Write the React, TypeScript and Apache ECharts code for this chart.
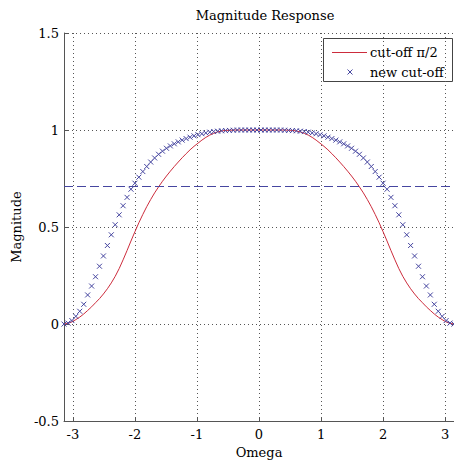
import React, { useEffect, useRef } from "react";
import * as echarts from "echarts";

// Frequency grid (rad/sample)
const omega = [
  -3.142, -3.078, -3.015, -2.951, -2.888, -2.824, -2.761, -2.697, -2.634, -2.57,
  -2.507, -2.443, -2.38, -2.317, -2.253, -2.19, -2.126, -2.063, -1.999, -1.936,
  -1.872, -1.809, -1.745, -1.682, -1.618, -1.555, -1.491, -1.428, -1.365, -1.301,
  -1.238, -1.174, -1.111, -1.047, -0.984, -0.92, -0.857, -0.793, -0.73, -0.666,
  -0.603, -0.539, -0.476, -0.413, -0.349, -0.286, -0.222, -0.159, -0.095, -0.032,
  0.032, 0.095, 0.159, 0.222, 0.286, 0.349, 0.413, 0.476, 0.539, 0.603,
  0.666, 0.73, 0.793, 0.857, 0.92, 0.984, 1.047, 1.111, 1.174, 1.238,
  1.301, 1.365, 1.428, 1.491, 1.555, 1.618, 1.682, 1.745, 1.809, 1.872,
  1.936, 1.999, 2.063, 2.126, 2.19, 2.253, 2.317, 2.38, 2.443, 2.507,
  2.57, 2.634, 2.697, 2.761, 2.824, 2.888, 2.951, 3.015, 3.078, 3.142,
];

// Red curve: "cut-off π/2"
const cutoffHalfPi = [
  0.0, 0.004, 0.011, 0.023, 0.036, 0.052, 0.07, 0.089, 0.11, 0.131,
  0.155, 0.182, 0.212, 0.246, 0.286, 0.331, 0.379, 0.428, 0.476, 0.522,
  0.565, 0.605, 0.642, 0.676, 0.707, 0.736, 0.763, 0.788, 0.812, 0.835,
  0.857, 0.878, 0.898, 0.916, 0.932, 0.948, 0.962, 0.974, 0.983, 0.99,
  0.995, 0.998, 0.999, 1.0, 1.0, 1.0, 1.0, 1.0, 1.0, 1.0,
  1.0, 1.0, 1.0, 1.0, 1.0, 1.0, 1.0, 0.999, 0.998, 0.995,
  0.99, 0.983, 0.974, 0.962, 0.948, 0.932, 0.916, 0.898, 0.878, 0.857,
  0.835, 0.812, 0.788, 0.763, 0.736, 0.707, 0.676, 0.642, 0.605, 0.565,
  0.522, 0.476, 0.428, 0.379, 0.331, 0.286, 0.246, 0.212, 0.182, 0.155,
  0.131, 0.11, 0.089, 0.07, 0.052, 0.036, 0.023, 0.011, 0.004, 0.0,
];

// Blue markers: "new cut-off"
const newCutoff = [
  0.0, 0.005, 0.018, 0.04, 0.066, 0.102, 0.15, 0.196, 0.244, 0.298,
  0.351, 0.405, 0.46, 0.512, 0.563, 0.61, 0.653, 0.695, 0.726, 0.757,
  0.786, 0.812, 0.835, 0.856, 0.875, 0.891, 0.906, 0.918, 0.929, 0.939,
  0.948, 0.956, 0.963, 0.97, 0.976, 0.981, 0.985, 0.989, 0.992, 0.994,
  0.996, 0.997, 0.998, 0.999, 1.0, 1.0, 1.0, 1.0, 1.0, 1.0,
  1.0, 1.0, 1.0, 1.0, 1.0, 1.0, 0.999, 0.998, 0.997, 0.996,
  0.994, 0.992, 0.989, 0.985, 0.981, 0.976, 0.97, 0.963, 0.956, 0.948,
  0.939, 0.929, 0.918, 0.906, 0.891, 0.875, 0.856, 0.835, 0.812, 0.786,
  0.757, 0.726, 0.695, 0.653, 0.61, 0.563, 0.512, 0.46, 0.405, 0.351,
  0.298, 0.244, 0.196, 0.15, 0.102, 0.066, 0.04, 0.018, 0.005, 0.0,
];

const halfPowerLevel = 0.707;
const xTicks = [-3, -2, -1, 0, 1, 2, 3];
const seriesNames = ["cut-off π/2", "new cut-off"];

const FONT = "DejaVu Serif";
const RED = "#cc2c3c";
const BLUE = "#4646a0";
const GRID = "#555";

export default function App() {
  const ref = useRef<HTMLDivElement>(null);
  useEffect(() => {
    if (!ref.current) return;
    const chart = echarts.init(ref.current, null, { renderer: "svg" });
    const redData = omega.map((w, i) => [w, cutoffHalfPi[i]]);
    const blueData = omega.map((w, i) => [w, newCutoff[i]]);
    chart.setOption({
      animation: false,
      backgroundColor: "#fff",
      textStyle: { fontFamily: FONT },
      title: {
        text: "Magnitude Response",
        left: 260,
        top: 4,
        textAlign: "center",
        textStyle: { fontFamily: FONT, fontSize: 13, fontWeight: "normal", color: "#000" },
      },
      grid: { left: 64, right: -2, top: 33, bottom: 40, containLabel: false },
      xAxis: {
        type: "value",
        min: -3.142,
        max: 3.142,
        name: "Omega",
        nameLocation: "middle",
        nameGap: 22,
        nameTextStyle: { fontFamily: FONT, fontSize: 13, color: "#000" },
        axisLine: { show: true, onZero: false, lineStyle: { color: GRID, width: 1 } },
        axisTick: { show: true, inside: true, length: 4, customValues: xTicks, lineStyle: { color: GRID } },
        axisLabel: { customValues: xTicks, fontFamily: FONT, fontSize: 13, color: "#000", margin: 7 },
        splitLine: { show: true, lineStyle: { type: [1, 3], color: GRID, width: 1 } },
      },
      yAxis: {
        type: "value",
        min: -0.5,
        max: 1.5,
        interval: 0.5,
        name: "Magnitude",
        nameLocation: "middle",
        nameGap: 36,
        nameTextStyle: { fontFamily: FONT, fontSize: 13, color: "#000" },
        axisLine: { show: true, onZero: false, lineStyle: { color: GRID, width: 1 } },
        axisTick: { show: true, inside: true, length: 4, lineStyle: { color: GRID } },
        axisLabel: { fontFamily: FONT, fontSize: 13, color: "#000", margin: 5 },
        splitLine: { show: true, lineStyle: { type: [1, 3], color: GRID, width: 1 } },
      },
      series: [
        {
          name: seriesNames[0],
          type: "line",
          data: redData,
          showSymbol: false,
          symbol: "none",
          lineStyle: { color: RED, width: 1 },
          z: 2,
        },
        {
          name: seriesNames[1],
          type: "scatter",
          data: blueData,
          symbol: "path://M0,0L10,10M10,0L0,10",
          symbolSize: 5,
          itemStyle: { color: "none", borderColor: BLUE, borderWidth: 1, opacity: 1 },
          z: 3,
          markLine: {
            silent: true,
            symbol: "none",
            label: { show: false },
            lineStyle: { color: BLUE, type: [9, 4], width: 1.2 },
            data: [{ yAxis: halfPowerLevel }],
          },
        },
      ],
      graphic: [
        {
          type: "group",
          z: 100,
          children: [
            {
              type: "rect",
              shape: { x: 323.5, y: 38.5, width: 129, height: 43 },
              style: { fill: "#fff", stroke: "#444", lineWidth: 1 },
            },
            {
              type: "line",
              shape: { x1: 332, y1: 52.5, x2: 367, y2: 52.5 },
              style: { stroke: RED, lineWidth: 1 },
            },
            {
              type: "text",
              x: 370,
              y: 52.5,
              style: { text: seriesNames[0], font: `13px "${FONT}"`, fill: "#000", verticalAlign: "middle" },
            },
            {
              type: "line",
              shape: { x1: 347.5, y1: 69.5, x2: 352.5, y2: 74.5 },
              style: { stroke: BLUE, lineWidth: 1 },
            },
            {
              type: "line",
              shape: { x1: 352.5, y1: 69.5, x2: 347.5, y2: 74.5 },
              style: { stroke: BLUE, lineWidth: 1 },
            },
            {
              type: "text",
              x: 370,
              y: 72,
              style: { text: seriesNames[1], font: `13px "${FONT}"`, fill: "#000", verticalAlign: "middle" },
            },
          ],
        },
      ],
    });
    return () => chart.dispose();
  }, []);
  return (
    <div
      ref={ref}
      style={{ position: "absolute", left: 0, top: 0, width: 454, height: 464, background: "#fff" }}
    />
  );
}
